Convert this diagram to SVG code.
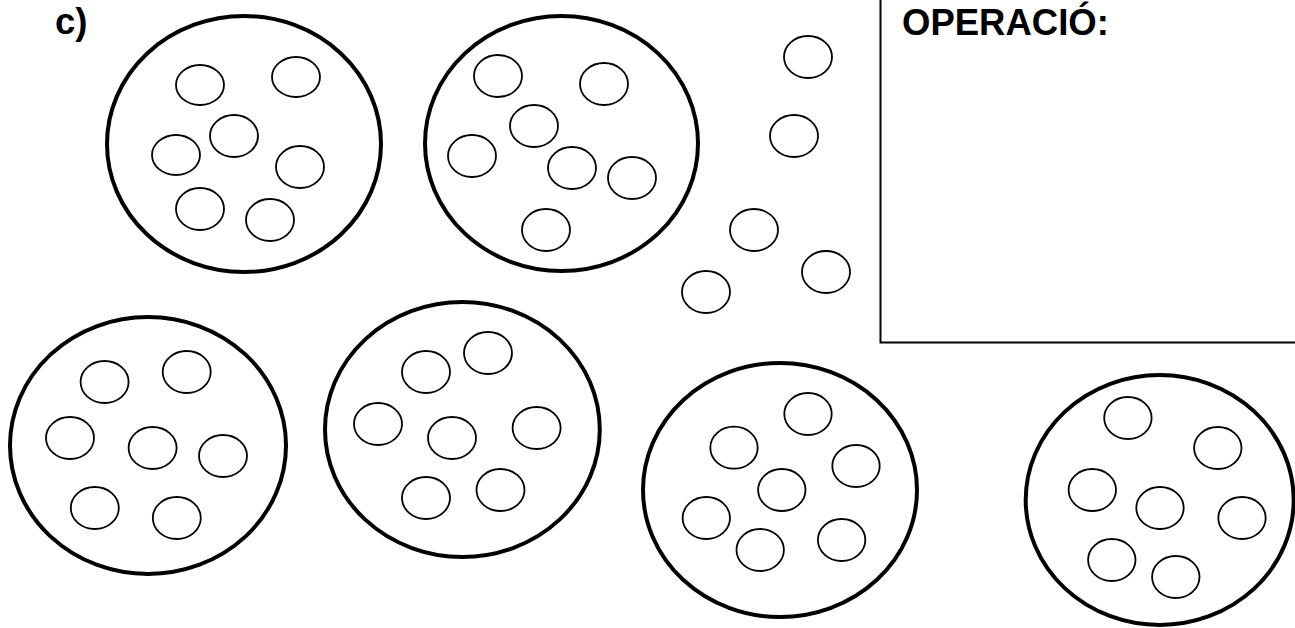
<svg xmlns="http://www.w3.org/2000/svg" width="1295" height="628" viewBox="0 0 1295 628">
<style>
.big{fill:none;stroke:#000;stroke-width:4}
.sm{fill:none;stroke:#000;stroke-width:1.8}
.box{fill:none;stroke:#000;stroke-width:2}
.t{font-family:"Liberation Sans",Arial,sans-serif;font-weight:bold;font-size:36.5px;fill:#000}
</style>
<rect width="1295" height="628" fill="#fff"/>
<text class="t" x="55" y="34">c)</text>
<g id="box">
<rect class="box" x="880.5" y="-5" width="430" height="347.5"/>
<text class="t" x="902" y="35">OPERACIÓ:</text>
</g>
<g id="group1">
<ellipse class="big" cx="244" cy="144" rx="137" ry="128"/>
<ellipse class="sm" cx="200" cy="85" rx="24" ry="20"/>
<ellipse class="sm" cx="296" cy="77" rx="24" ry="20"/>
<ellipse class="sm" cx="234" cy="136" rx="24" ry="21"/>
<ellipse class="sm" cx="176" cy="155" rx="24" ry="20"/>
<ellipse class="sm" cx="300" cy="167" rx="24" ry="21"/>
<ellipse class="sm" cx="200" cy="209" rx="24" ry="21"/>
<ellipse class="sm" cx="270" cy="220" rx="24" ry="21"/>
</g>
<g id="group2">
<ellipse class="big" cx="561.5" cy="143.5" rx="136.5" ry="127.5"/>
<ellipse class="sm" cx="498" cy="76" rx="24" ry="21"/>
<ellipse class="sm" cx="604" cy="84" rx="24" ry="21"/>
<ellipse class="sm" cx="534" cy="126" rx="24" ry="21"/>
<ellipse class="sm" cx="472" cy="156" rx="24" ry="21"/>
<ellipse class="sm" cx="572" cy="168" rx="24" ry="21"/>
<ellipse class="sm" cx="632" cy="178" rx="24" ry="21"/>
<ellipse class="sm" cx="546" cy="230" rx="24" ry="21"/>
</g>
<g id="loose">
<ellipse class="sm" cx="808" cy="57" rx="24" ry="21"/>
<ellipse class="sm" cx="794" cy="136" rx="24" ry="21"/>
<ellipse class="sm" cx="754" cy="230" rx="24" ry="21"/>
<ellipse class="sm" cx="826" cy="272" rx="24" ry="21"/>
<ellipse class="sm" cx="706" cy="292" rx="24" ry="21"/>
</g>
<g id="group3">
<ellipse class="big" cx="148" cy="445.5" rx="138" ry="128.5"/>
<ellipse class="sm" cx="104.6" cy="382" rx="24" ry="21"/>
<ellipse class="sm" cx="186.7" cy="372" rx="24" ry="21"/>
<ellipse class="sm" cx="70" cy="438" rx="24" ry="21"/>
<ellipse class="sm" cx="152.6" cy="448" rx="24" ry="21"/>
<ellipse class="sm" cx="223" cy="456" rx="24" ry="21"/>
<ellipse class="sm" cx="94.8" cy="508" rx="24" ry="21"/>
<ellipse class="sm" cx="176.8" cy="518" rx="24" ry="21"/>
</g>
<g id="group4">
<ellipse class="big" cx="462.4" cy="429.5" rx="137.4" ry="127.5"/>
<ellipse class="sm" cx="426" cy="372" rx="24" ry="21"/>
<ellipse class="sm" cx="488" cy="353" rx="24" ry="21"/>
<ellipse class="sm" cx="378" cy="424" rx="24" ry="21"/>
<ellipse class="sm" cx="452" cy="438" rx="24" ry="21"/>
<ellipse class="sm" cx="536.6" cy="428" rx="24" ry="21"/>
<ellipse class="sm" cx="426" cy="498" rx="24" ry="21"/>
<ellipse class="sm" cx="500.5" cy="490" rx="24" ry="21"/>
</g>
<g id="group5">
<ellipse class="big" cx="780" cy="490" rx="137" ry="127"/>
<ellipse class="sm" cx="808" cy="414" rx="23.7" ry="21"/>
<ellipse class="sm" cx="734" cy="447.7" rx="23.7" ry="21"/>
<ellipse class="sm" cx="856" cy="466" rx="23.7" ry="21"/>
<ellipse class="sm" cx="781.8" cy="490" rx="23.7" ry="21"/>
<ellipse class="sm" cx="706.3" cy="518" rx="23.7" ry="21"/>
<ellipse class="sm" cx="760.2" cy="550" rx="23.7" ry="21"/>
<ellipse class="sm" cx="841.6" cy="540" rx="23.7" ry="21"/>
</g>
<g id="group6">
<ellipse class="big" cx="1159.7" cy="500" rx="134" ry="125"/>
<ellipse class="sm" cx="1127.9" cy="418" rx="23.7" ry="21"/>
<ellipse class="sm" cx="1217.8" cy="448" rx="23.7" ry="21"/>
<ellipse class="sm" cx="1092.3" cy="490" rx="23.7" ry="21"/>
<ellipse class="sm" cx="1160" cy="508" rx="23.7" ry="21"/>
<ellipse class="sm" cx="1242" cy="518" rx="23.7" ry="21"/>
<ellipse class="sm" cx="1111.8" cy="560" rx="23.7" ry="21"/>
<ellipse class="sm" cx="1175.8" cy="577" rx="23.7" ry="21"/>
</g>
</svg>
